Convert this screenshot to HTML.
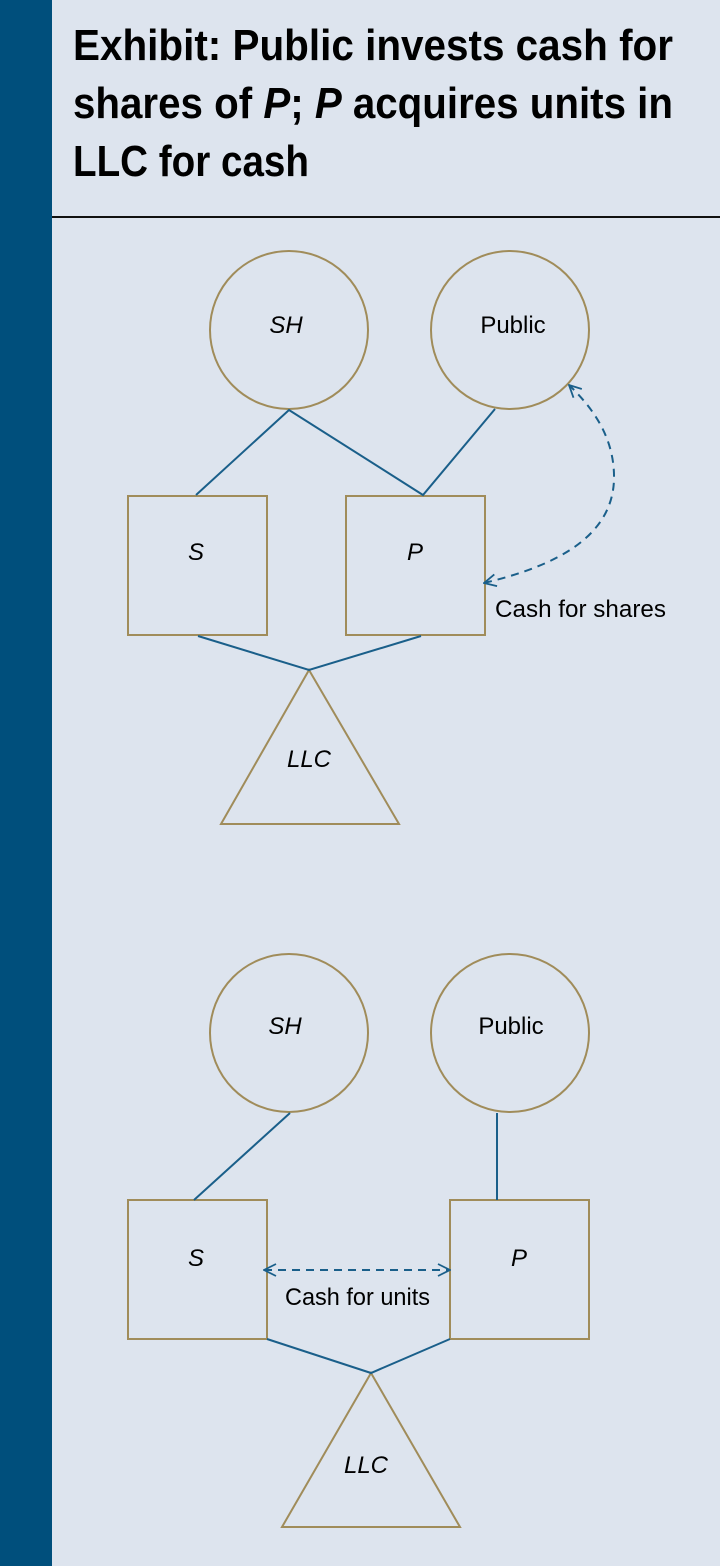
<!DOCTYPE html>
<html><head><meta charset="utf-8"><style>
html,body{margin:0;padding:0;background:#dde4ee;}
svg{display:block;}
text{font-family:"Liberation Sans Narrow","Liberation Sans",sans-serif;fill:#000;}
</style></head><body>
<svg width="720" height="1566" viewBox="0 0 720 1566" xmlns="http://www.w3.org/2000/svg">
<defs>
<marker id="ah" viewBox="0 0 14 14" refX="13" refY="7" markerWidth="14" markerHeight="14" markerUnits="userSpaceOnUse" orient="auto-start-reverse">
<path d="M1,1 L13,7 L1,13" fill="none" stroke="#1a5f8a" stroke-width="1.8"/>
</marker>
</defs>
<rect width="720" height="1566" fill="#dde4ee"/>
<rect x="0" y="0" width="52" height="1566" fill="#004f7c"/>
<g font-weight="bold" font-size="44">
<text x="73" y="60" textLength="600" lengthAdjust="spacingAndGlyphs">Exhibit: Public invests cash for</text>
<text x="73" y="118" textLength="600" lengthAdjust="spacingAndGlyphs">shares of <tspan font-style="italic">P</tspan>; <tspan font-style="italic">P</tspan> acquires units in</text>
<text x="73" y="176" textLength="236" lengthAdjust="spacingAndGlyphs">LLC for cash</text>
</g>
<line x1="52" y1="217" x2="720" y2="217" stroke="#111" stroke-width="2"/>

<g fill="none" stroke="#a08c5a" stroke-width="2">
<circle cx="289" cy="330" r="79"/>
<circle cx="510" cy="330" r="79"/>
<rect x="128" y="496" width="139" height="139"/>
<rect x="346" y="496" width="139" height="139"/>
<polygon points="309,670 221,824 399,824"/>
<circle cx="289" cy="1033" r="79"/>
<circle cx="510" cy="1033" r="79"/>
<rect x="128" y="1200" width="139" height="139"/>
<rect x="450" y="1200" width="139" height="139"/>
<polygon points="371,1373 282,1527 460,1527"/>
</g>
<g fill="none" stroke="#1a5f8a" stroke-width="2">
<polyline points="196,495 289,410 423,495 495,409"/>
<polyline points="198,636 309,670 421,636"/>
<line x1="290" y1="1113" x2="194" y2="1200"/>
<line x1="497" y1="1113" x2="497" y2="1200"/>
<polyline points="267,1339 371,1373 450,1339"/>
<path d="M484,583 C560,565 612,535 614,480 C615,440 595,410 569,385" stroke-dasharray="8,6" marker-start="url(#ah)" marker-end="url(#ah)"/>
<line x1="264" y1="1270" x2="450" y2="1270" stroke-dasharray="8,6" marker-start="url(#ah)" marker-end="url(#ah)"/>
</g>
<g font-size="24" text-anchor="middle">
<text x="286" y="333" font-style="italic">SH</text>
<text x="513" y="333">Public</text>
<text x="196" y="560" font-style="italic">S</text>
<text x="415" y="560" font-style="italic">P</text>
<text x="309" y="767" font-style="italic">LLC</text>
<text x="285" y="1034" font-style="italic">SH</text>
<text x="511" y="1034">Public</text>
<text x="196" y="1266" font-style="italic">S</text>
<text x="519" y="1266" font-style="italic">P</text>
<text x="366" y="1473" font-style="italic">LLC</text>
</g>
<g font-size="24">
<text x="495" y="617" textLength="171" lengthAdjust="spacingAndGlyphs">Cash for shares</text>
<text x="285" y="1305" textLength="145" lengthAdjust="spacingAndGlyphs">Cash for units</text>
</g>
</svg>
</body></html>
